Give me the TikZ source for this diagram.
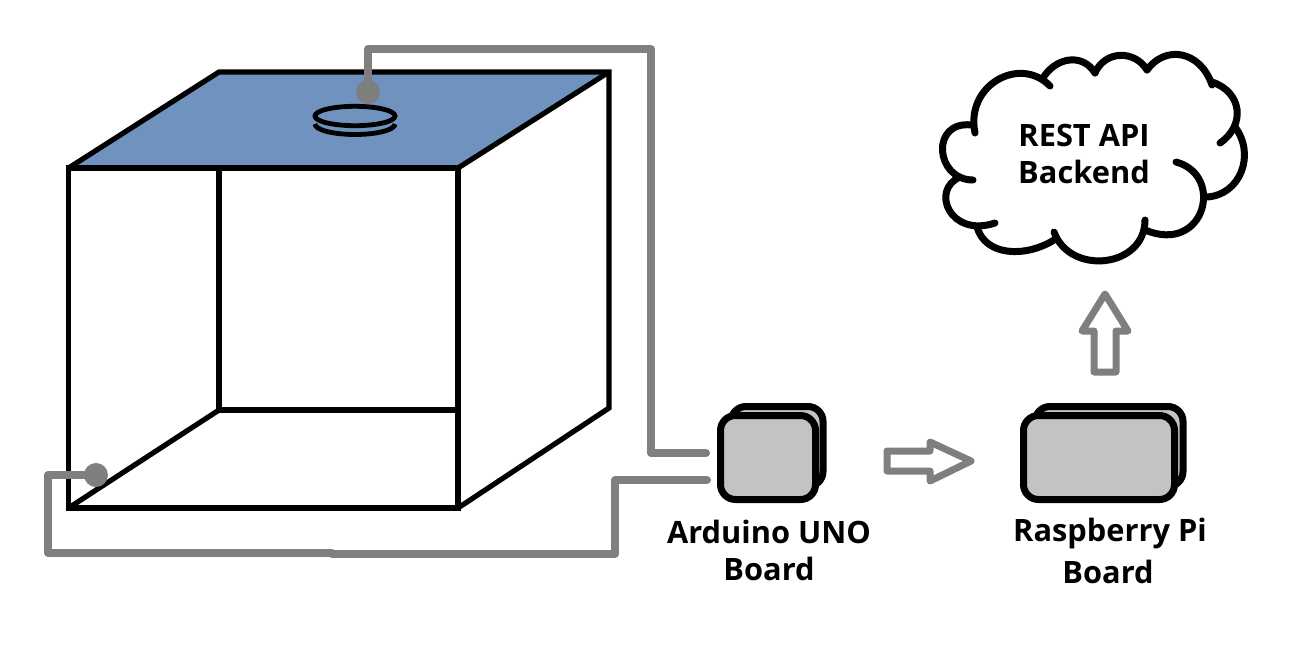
\documentclass[tikz,border=0pt]{standalone}
\usepackage{fontspec}
\setmainfont{Open Sans}
\definecolor{topblue}{HTML}{7092BE}
\definecolor{wiregray}{HTML}{7F7F7F}
\definecolor{boardgray}{HTML}{C3C3C3}
\tikzset{
  edgeline/.style={line width=5.2pt,line join=miter,black},
  wire/.style={line width=8pt,wiregray,line join=round},
  wirecap/.style={wire,line cap=round},
  sensor/.style={circle,fill=wiregray,inner sep=0pt,minimum size=24pt},
  board/.style={draw=black,line width=7pt,fill=boardgray,rounded corners=15pt,inner sep=0pt},
  cloudline/.style={line width=7pt,black,line cap=round,line join=round},
  blockarrow/.style={line width=7pt,wiregray,line join=round,fill=white},
  lbl/.style={font=\fontsize{30.8}{37}\selectfont\bfseries,align=center,inner sep=0pt,text=black},
  coil/.style={line width=4.8pt,black},
}
\begin{document}
\begin{tikzpicture}[x=1pt,y=-1pt]
\useasboundingbox (0,0) rectangle (1290,654);
% top face
\fill[topblue] (68.5,168) -- (219,72) -- (609,72) -- (458,168) -- cycle;
% back edges
\draw[edgeline] (219,168) -- (219,410) -- (458,410);
\draw[edgeline] (68.5,508) -- (219,410);
% outer
\draw[edgeline] (68.5,168) -- (219,72) -- (609,72) -- (609,408) -- (458,508);
\draw[edgeline] (68.5,168) rectangle (458,508);
\draw[edgeline] (458,168) -- (609,72);
% coil
\draw[coil] (315,124) arc[start angle=180,end angle=0,x radius=40,y radius=10.5];
\draw[coil] (355,116) ellipse[x radius=40,y radius=9.7];
% sensors
\node[sensor] (top) at (368,92) {};
\node[sensor] (bot) at (96,475) {};
% boards
\node[board,minimum width=92pt,minimum height=80pt] (ardback) at (777,446.5) {};
\node[board,minimum width=95pt,minimum height=84pt] (ard) at (768,457.5) {};
\node[board,minimum width=148pt,minimum height=80pt] (piback) at (1109,446.5) {};
\node[board,minimum width=151pt,minimum height=84pt] (pi) at (1099,457.5) {};
% wires
\coordinate (a1) at (368,49);
\coordinate (a2) at (651,49);
\coordinate (a3) at (651,453);
\coordinate (a4) at (706,453);
\coordinate (b1) at (48,475);
\coordinate (b2) at (48,553);
\coordinate (b3) at (332,553);
\coordinate (b4) at (332,554);
\coordinate (b5) at (615,554);
\coordinate (b6) at (615,480);
\coordinate (b7) at (707,480);
\draw[wirecap] (top.center) -- (a1) -- (a2) -- (a3) -- (a4);
\draw[wirecap] (bot.center) -- (b1) -- (b2) -- (b3);
\draw[wirecap] (b4) -- (b5) -- (b6) -- (b7);
% block arrows
\draw[blockarrow] (887,451) -- (930,451) -- (930,442) -- (971,461) -- (930,481) -- (930,471) -- (887,471) -- cycle;
\draw[blockarrow] (1094,372) -- (1094,331) -- (1082,331) -- (1105,294) -- (1128,331) -- (1116,331) -- (1116,372) -- cycle;
% cloud
\draw[cloudline] (975,133) .. controls (965,85) and (1020,55) .. (1050,86);
\draw[cloudline] (1043,78) .. controls (1055,58) and (1082,52) .. (1095,73);
\draw[cloudline] (1095,73) .. controls (1105,50) and (1135,50) .. (1147,70);
\draw[cloudline] (1147,70) .. controls (1165,45) and (1200,50) .. (1212,85);
\draw[cloudline] (1212,82) .. controls (1242,92) and (1246,125) .. (1220,143);
\draw[cloudline] (1235,127) .. controls (1256,155) and (1240,195) .. (1207,197);
\draw[cloudline] (1176,162) .. controls (1225,175) and (1205,255) .. (1145,230);
\draw[cloudline] (1145,220) .. controls (1145,268) and (1070,276) .. (1054,232);
\draw[cloudline] (1054,240) .. controls (1025,258) and (985,256) .. (977,227);
\draw[cloudline] (995,223) .. controls (950,238) and (930,190) .. (960,177);
\draw[cloudline] (973,180) .. controls (935,180) and (930,120) .. (972,125);
% labels
\node[lbl] (rest) at (1084,154) {REST API\\Backend};
\node[lbl] (ardl) at (769,550) {Arduino UNO\\Board};
\node[lbl] (pil1) at (1110,533) {Raspberry Pi};
\node[lbl] (pil2) at (1108,572) {Board};
\end{tikzpicture}
\end{document}
